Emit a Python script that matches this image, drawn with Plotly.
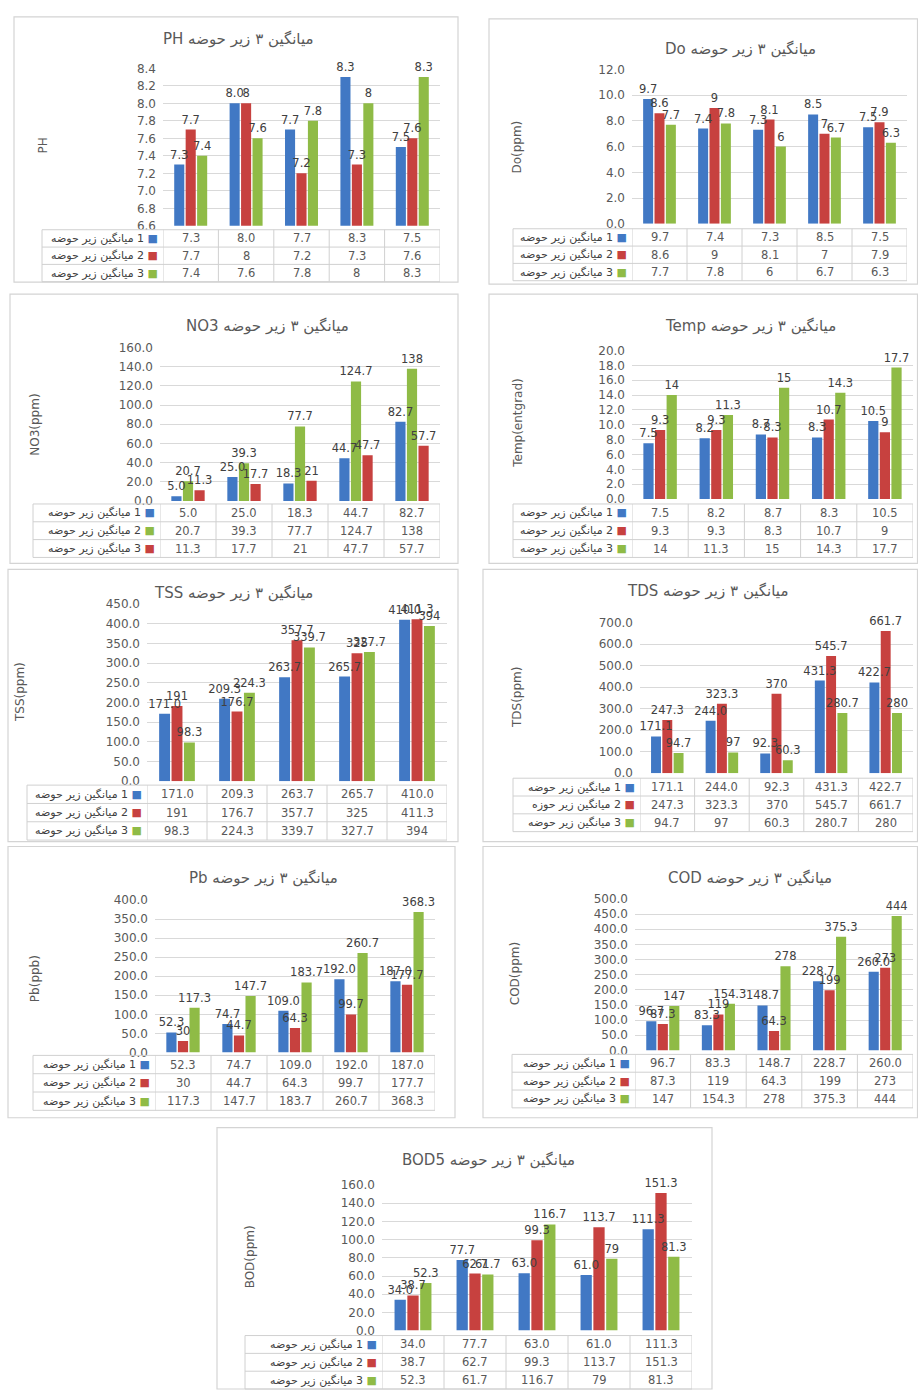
import plotly.graph_objects as go

W, H = 918, 1397

# ---------------- data ----------------
categories = ["1", "2", "3", "4", "5"]

ph_1 = [7.3, 8.0, 7.7, 8.3, 7.5]
ph_2 = [7.7, 8, 7.2, 7.3, 7.6]
ph_3 = [7.4, 7.6, 7.8, 8, 8.3]

do_1 = [9.7, 7.4, 7.3, 8.5, 7.5]
do_2 = [8.6, 9, 8.1, 7, 7.9]
do_3 = [7.7, 7.8, 6, 6.7, 6.3]

no3_1 = [5.0, 25.0, 18.3, 44.7, 82.7]
no3_2 = [20.7, 39.3, 77.7, 124.7, 138]
no3_3 = [11.3, 17.7, 21, 47.7, 57.7]

temp_1 = [7.5, 8.2, 8.7, 8.3, 10.5]
temp_2 = [9.3, 9.3, 8.3, 10.7, 9]
temp_3 = [14, 11.3, 15, 14.3, 17.7]

tss_1 = [171.0, 209.3, 263.7, 265.7, 410.0]
tss_2 = [191, 176.7, 357.7, 325, 411.3]
tss_3 = [98.3, 224.3, 339.7, 327.7, 394]

tds_1 = [171.1, 244.0, 92.3, 431.3, 422.7]
tds_2 = [247.3, 323.3, 370, 545.7, 661.7]
tds_3 = [94.7, 97, 60.3, 280.7, 280]

pb_1 = [52.3, 74.7, 109.0, 192.0, 187.0]
pb_2 = [30, 44.7, 64.3, 99.7, 177.7]
pb_3 = [117.3, 147.7, 183.7, 260.7, 368.3]

cod_1 = [96.7, 83.3, 148.7, 228.7, 260.0]
cod_2 = [87.3, 119, 64.3, 199, 273]
cod_3 = [147, 154.3, 278, 375.3, 444]

bod_1 = [34.0, 77.7, 63.0, 61.0, 111.3]
bod_2 = [38.7, 62.7, 99.3, 113.7, 151.3]
bod_3 = [52.3, 61.7, 116.7, 79, 81.3]

row_label = "میانگین زیر حوضه"
row_label_tds2 = "میانگین زیر حوزه"
title_prefix = "میانگین ۳ زیر حوضه"

BLUE, RED, GREEN = "#4178c4", "#c7413f", "#8fbb46"
FONT = "DejaVu Sans, sans-serif"
TXT = "#404040"
LBL = "#595959"
GRID = "#d9d9d9"
TLINE = "#d0d0d0"

# panel geometry (pixels)
panels = [
    dict(name="PH", ytitle="PH", series=[ph_1, ph_2, ph_3], colors=[BLUE, RED, GREEN],
         rng=(6.6, 8.4), dtick=0.2, box=(14, 10, 458, 278), plot=(163, 440, 62, 221),
         tleft=42, ttop=225, rh=17.5, title=(238, 32), yt=(43, 140)),
    dict(name="Do", ytitle="Do(ppm)", series=[do_1, do_2, do_3], colors=[BLUE, RED, GREEN],
         rng=(0, 12), dtick=2, box=(489, 12, 918, 280), plot=(632, 907, 63, 219),
         tleft=513, ttop=224, rh=17.5, title=(740, 42), yt=(517, 142)),
    dict(name="NO3", ytitle="NO3(ppm)", series=[no3_1, no3_2, no3_3], colors=[BLUE, GREEN, RED],
         rng=(0, 160), dtick=20, box=(10, 290, 458, 562), plot=(160, 440, 344, 499),
         tleft=33, ttop=502, rh=18, title=(267, 322), yt=(35, 422)),
    dict(name="Temp", ytitle="Temp(entgrad)", series=[temp_1, temp_2, temp_3], colors=[BLUE, RED, GREEN],
         rng=(0, 20), dtick=2, box=(489, 290, 918, 562), plot=(632, 913, 347, 497),
         tleft=513, ttop=502, rh=18, title=(750, 322), yt=(518, 420)),
    dict(name="TSS", ytitle="TSS(ppm)", series=[tss_1, tss_2, tss_3], colors=[BLUE, RED, GREEN],
         rng=(0, 450), dtick=50, box=(8, 568, 458, 843), plot=(147, 447, 603, 782),
         tleft=27, ttop=786, rh=18.5, title=(233, 592), yt=(20, 692)),
    dict(name="TDS", ytitle="TDS(ppm)", series=[tds_1, tds_2, tds_3], colors=[BLUE, RED, GREEN],
         rng=(0, 700), dtick=100, box=(483, 568, 918, 843), plot=(640, 913, 622, 774),
         tleft=513, ttop=779, rh=18, title=(707, 590), yt=(517, 698)),
    dict(name="Pb", ytitle="Pb(ppb)", series=[pb_1, pb_2, pb_3], colors=[BLUE, RED, GREEN],
         rng=(0, 400), dtick=50, box=(8, 848, 455, 1122), plot=(155, 435, 902, 1056),
         tleft=33, ttop=1059, rh=18.5, title=(263, 880), yt=(35, 982)),
    dict(name="COD", ytitle="COD(ppm)", series=[cod_1, cod_2, cod_3], colors=[BLUE, RED, GREEN],
         rng=(0, 500), dtick=50, box=(483, 848, 918, 1122), plot=(635, 913, 901, 1054),
         tleft=512, ttop=1058, rh=18, title=(750, 880), yt=(515, 977)),
    dict(name="BOD5", ytitle="BOD(ppm)", series=[bod_1, bod_2, bod_3], colors=[BLUE, RED, GREEN],
         rng=(0, 160), dtick=20, box=(217, 1132, 712, 1396), plot=(382, 692, 1190, 1337),
         tleft=245, ttop=1342, rh=18, title=(488, 1165), yt=(250, 1263)),
]


def fmt(v, first):
    return f"{v:.1f}" if first else f"{v:g}"


def px(x):
    return min(max(x / W, 0.0), 1.0)


def py(y):
    return min(max(1 - y / H, 0.0), 1.0)


fig = go.Figure()
shapes = []
annotations = []
layout_axes = {}
ncat = len(categories)

for i, p in enumerate(panels):
    k = "" if i == 0 else str(i + 1)
    xa, ya = "x" + k, "y" + k
    x0, x1, yt, yb = p["plot"]
    # coloured bars
    for j, (vals, col) in enumerate(zip(p["series"], p["colors"])):
        fig.add_trace(go.Bar(
            x=categories, y=vals, xaxis=xa, yaxis=ya, offsetgroup=str(j),
            marker=dict(color=col, line=dict(width=0)),
            showlegend=False, name=f"{row_label} {j+1}", cliponaxis=True,
        ))
    # value labels, drawn afterwards on transparent twins so they sit above every bar
    for j, vals in enumerate(p["series"]):
        fig.add_trace(go.Bar(
            x=categories, y=vals, xaxis=xa, yaxis=ya, offsetgroup=str(j),
            marker=dict(color="rgba(0,0,0,0)", line=dict(width=0)),
            text=[fmt(v, j == 0) for v in vals], textposition="outside",
            textfont=dict(size=11.5, color=TXT, family=FONT),
            constraintext="none", cliponaxis=False, showlegend=False,
            hoverinfo="skip",
        ))
    layout_axes["xaxis" + k] = dict(
        domain=[px(x0), px(x1)], anchor=ya, type="category", range=[-0.5, ncat - 0.5],
        showticklabels=False, showgrid=False, zeroline=False, showline=False, ticks="",
    )
    layout_axes["yaxis" + k] = dict(
        domain=[py(yb), py(yt)], anchor=xa, range=list(p["rng"]), dtick=p["dtick"],
        tick0=p["rng"][0], tickformat=".1f", showgrid=True, gridcolor=GRID, gridwidth=1,
        zeroline=False, showline=False, ticks="", ticklabelstandoff=6,
        tickfont=dict(size=12, color=LBL, family=FONT),
    )
    # panel box
    bx0, by0, bx1, by1 = p["box"]
    shapes.append(dict(type="rect", xref="paper", yref="paper",
                       x0=px(bx0), x1=px(min(bx1, W - 0.5)), y0=py(by1), y1=py(by0),
                       line=dict(color="#d4d4d4", width=1.2), layer="below"))
    # title
    tx, ty = p["title"]
    annotations.append(dict(
        xref="paper", yref="paper", x=px(tx), y=py(ty), xanchor="center", yanchor="middle",
        text="\u202b" + title_prefix + " " + p["name"] + "\u202c", showarrow=False,
        font=dict(size=15, color=LBL, family=FONT)))
    # y title
    ax_, ay_ = p["yt"]
    annotations.append(dict(
        xref="paper", yref="paper", x=px(ax_), y=py(ay_), xanchor="center", yanchor="middle",
        text=p["ytitle"], textangle=-90, showarrow=False,
        font=dict(size=12, color=LBL, family=FONT)))

    # ---- data table (lines on the category axis, texts in cells) ----
    rh = p["rh"]
    tt = p["ttop"]
    ttop_p, tbot_p = py(tt), py(tt + 3 * rh)
    for r in range(4):
        yy = py(tt + r * rh)
        shapes.append(dict(type="line", xref="paper", yref="paper",
                           x0=px(p["tleft"]), x1=px(x1), y0=yy, y1=yy,
                           line=dict(color=TLINE, width=1)))
    shapes.append(dict(type="line", xref="paper", yref="paper",
                       x0=px(p["tleft"]), x1=px(p["tleft"]), y0=tbot_p, y1=ttop_p,
                       line=dict(color=TLINE, width=1)))
    for c in range(ncat + 1):
        shapes.append(dict(type="line", xref=xa, yref="paper",
                           x0=c - 0.5, x1=c - 0.5, y0=tbot_p, y1=ttop_p,
                           line=dict(color=TLINE, width=1)))
    for j, (vals, col) in enumerate(zip(p["series"], p["colors"])):
        yc = py(tt + (j + 0.5) * rh)
        lab = row_label_tds2 if (p["name"] == "TDS" and j == 1) else row_label
        annotations.append(dict(
            xref="paper", yref="paper", x=px(x0 - 3), y=yc, xanchor="right", yanchor="middle",
            text=f"{lab}\u200e {j+1} <span style='color:{col}'>■</span>", showarrow=False,
            font=dict(size=11, color=TXT, family=FONT)))
        for c, v in enumerate(vals):
            annotations.append(dict(
                xref=xa, yref="paper", x=c, y=yc, xanchor="center", yanchor="middle",
                text=fmt(v, j == 0), showarrow=False,
                font=dict(size=11.5, color=LBL, family=FONT)))

fig.update_layout(
    width=W, height=H, margin=dict(l=0, r=0, t=0, b=0),
    paper_bgcolor="white", plot_bgcolor="rgba(0,0,0,0)",
    barmode="group", bargap=0.38, bargroupgap=0.12,
    font=dict(family=FONT, color=TXT),
    shapes=shapes, annotations=annotations, showlegend=False,
    **layout_axes,
)

fig.write_html(
    "out.html",
    config={"displayModeBar": False},
    post_script="document.documentElement.style.margin='0';document.body.style.margin='0';document.body.style.padding='0';",
)
